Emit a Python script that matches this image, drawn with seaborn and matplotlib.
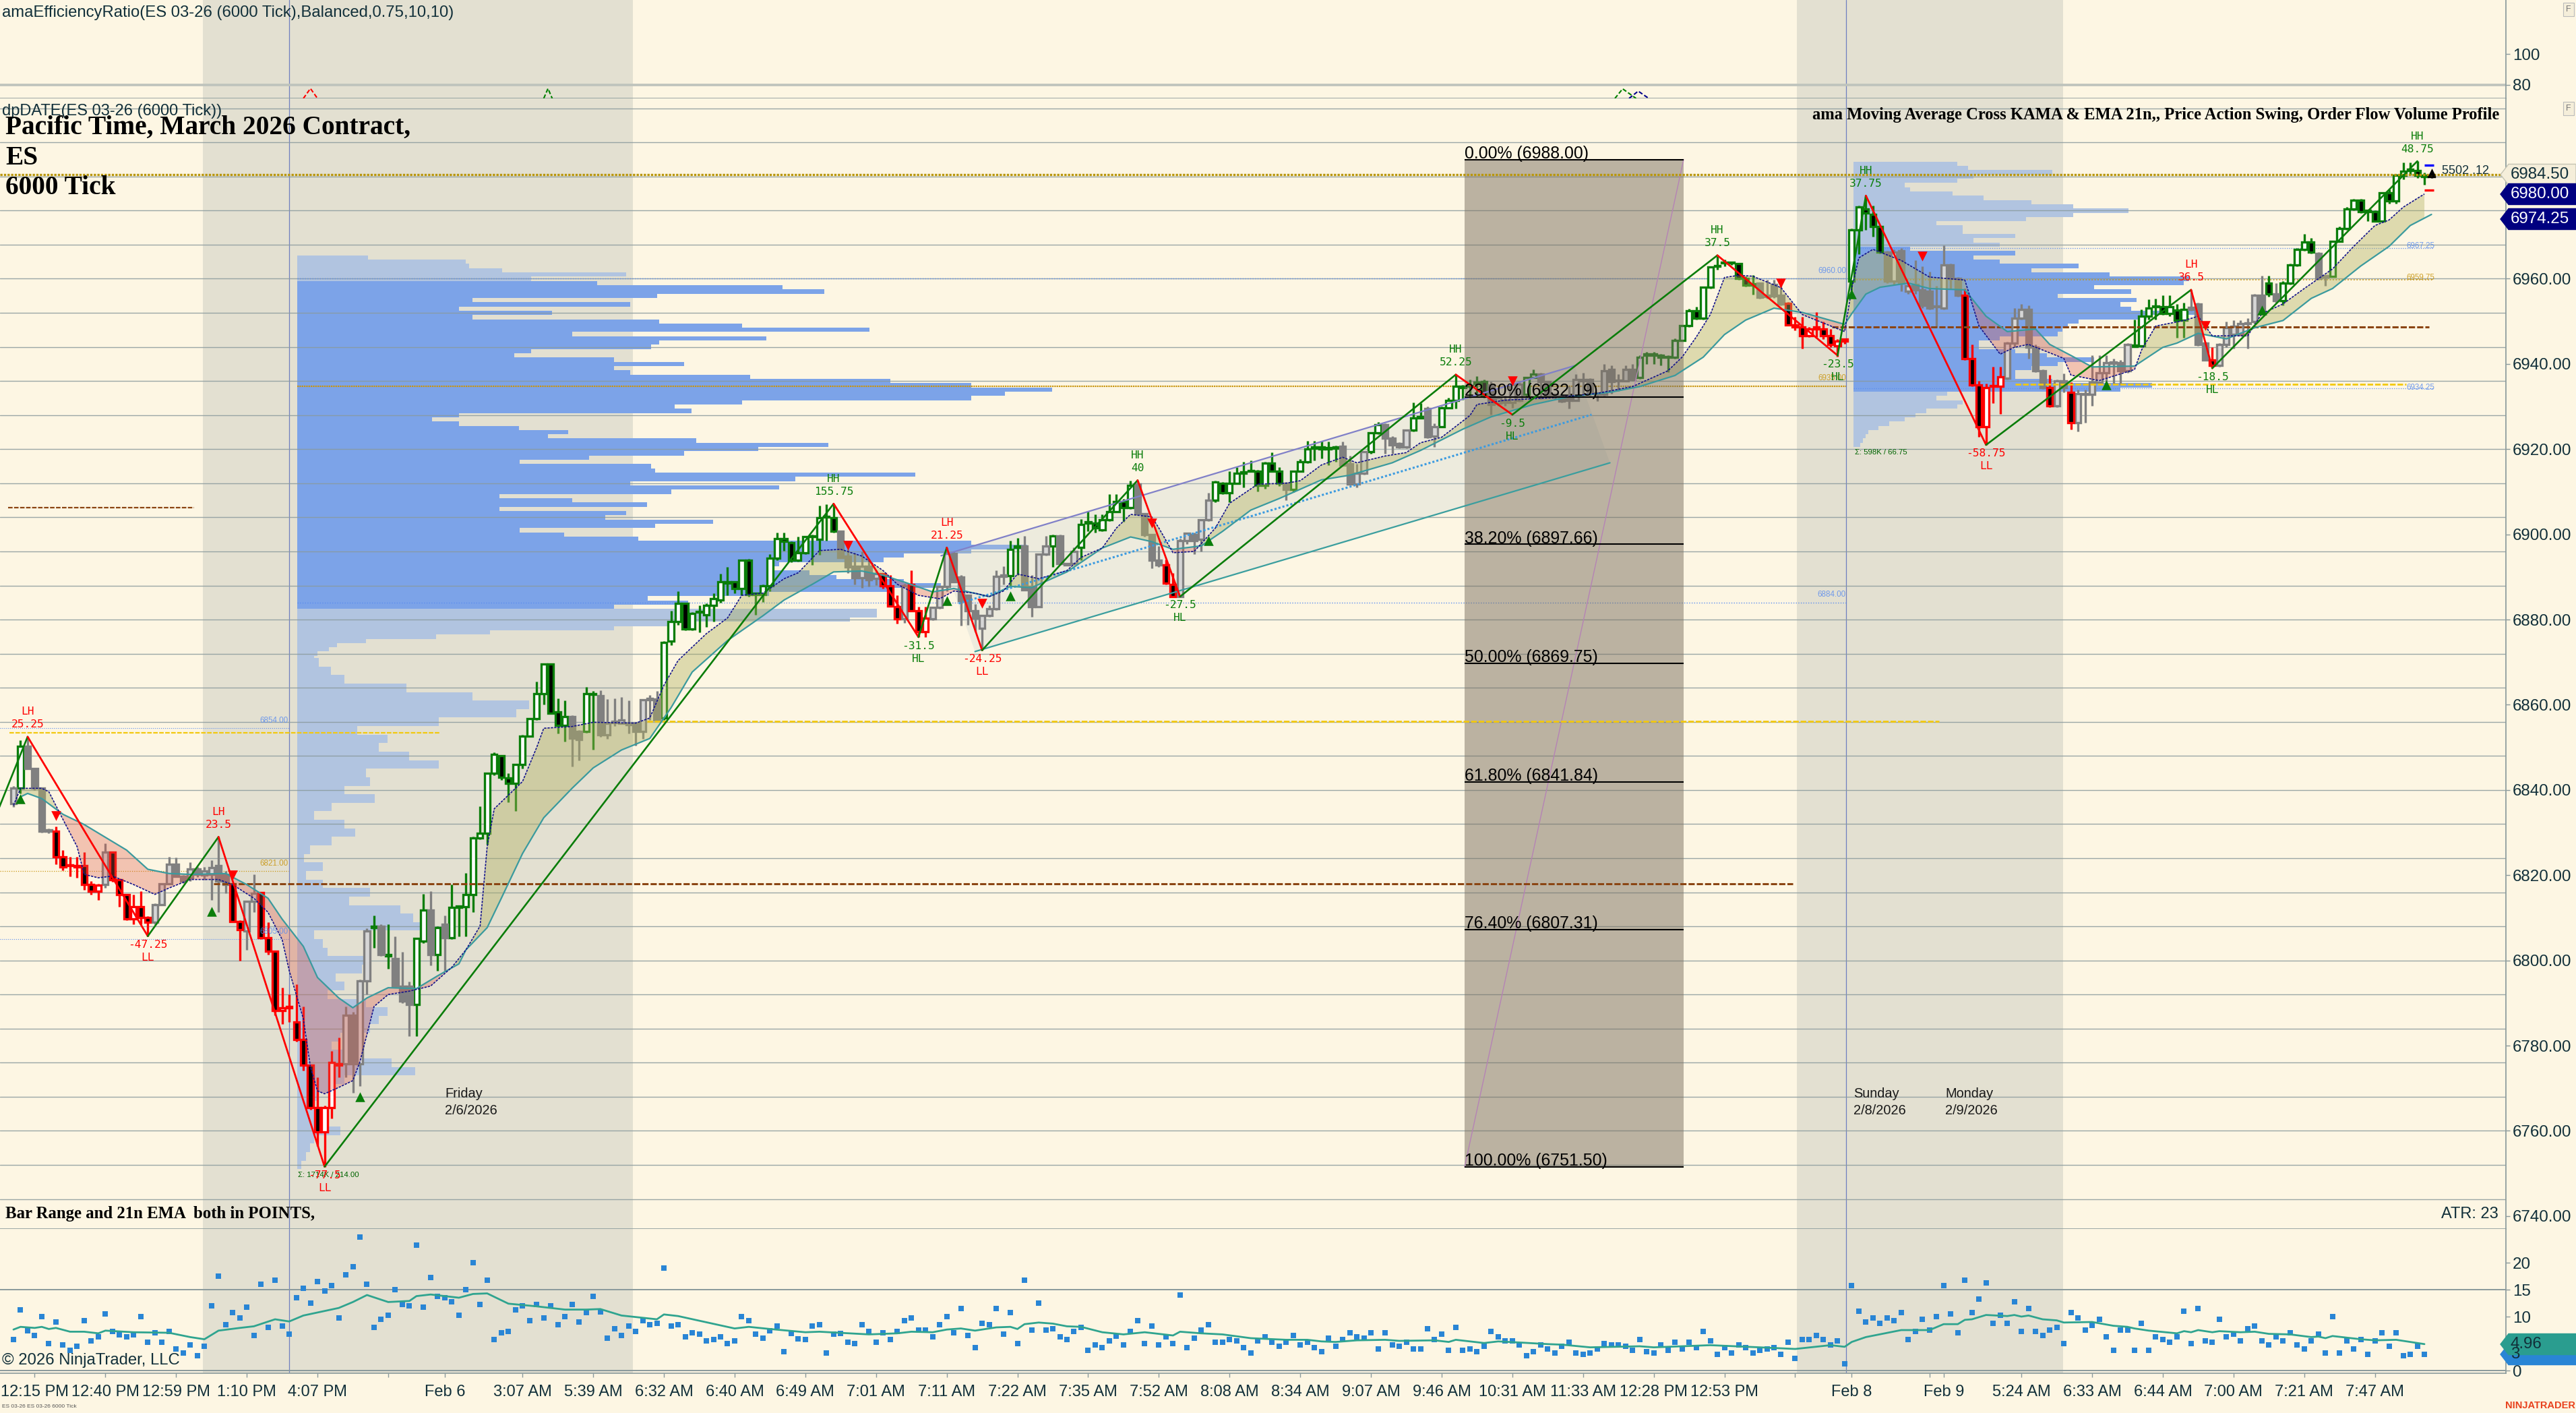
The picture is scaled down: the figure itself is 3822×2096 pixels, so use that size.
import numpy as np
import pandas as pd
import matplotlib
matplotlib.use("Agg")
import matplotlib.pyplot as plt
import seaborn as sns
from matplotlib.patches import Polygon

W, H = 3823, 2096
BG = "#FDF6E3"
sns.set_theme(style="white", rc={"figure.facecolor": BG, "axes.facecolor": BG, "savefig.facecolor": BG})
plt.rcParams["font.family"] = ["Liberation Sans", "DejaVu Sans"]

# (open, high, low, close, colour class)
seg_1 = [(6836.8,6841,6836,6840.4,'n'),(6840.4,6851.7,6839.2,6850.2,'g'),(6850.2,6852.5,6845,6845.1,'n'),(6845.1,6845.1,6840,6840.4,'n'),
(6840.4,6840.4,6830,6830.3,'n'),(6830.7,6831,6829.8,6830.3,'n'),(6830.3,6831.5,6822.6,6824.3,'r'),(6824.3,6825.9,6821.2,6822,'r'),
(6822.2,6824.3,6819.8,6822.2,'r'),(6822.2,6824.3,6819.4,6822,'r'),(6822.2,6825.5,6816.6,6817.8,'r'),(6817.8,6818.6,6815.5,6816.2,'r'),
(6816.2,6818,6814.2,6817.6,'r'),(6817.8,6827.5,6817,6825.5,'n'),(6825.5,6825.5,6818.5,6819,'r'),(6819,6819.2,6812.6,6815.4,'r'),
(6815.4,6815.6,6809.5,6809.7,'r'),(6809.7,6815.4,6808.5,6812.6,'r'),(6812.6,6816.2,6808.5,6810.1,'r'),(6810.1,6810.4,6805.7,6808.9,'r'),
(6808.9,6813.4,6808.5,6813.1,'n'),(6813.1,6818.2,6813,6818,'n'),(6818,6824.3,6818,6822.6,'n'),(6822.6,6824.1,6819.5,6819.8,'n'),
(6819.8,6820,6818.2,6818.6,'n'),(6819.4,6823,6818.6,6821.4,'n'),(6821.4,6822,6819.5,6820.2,'n'),(6820,6822,6819,6821,'n'),
(6820.2,6823.5,6814.2,6821.8,'n'),(6822.2,6829,6811.3,6818.6,'n'),(6820.2,6821,6815.8,6817.8,'n'),(6818,6818,6809,6809.1,'r'),
(6809.1,6809.5,6800,6807.2,'r'),(6806.9,6814,6802.5,6813.8,'n'),(6813.8,6820.2,6811.3,6815.8,'n'),(6815.9,6816,6805,6805.3,'r'),
(6805.3,6808.9,6801.3,6802.1,'r'),(6802.1,6802.3,6787.1,6788.3,'r'),(6788.3,6793.6,6785.1,6788.8,'r'),(6788.9,6792,6785.5,6788.9,'r'),
(6785.5,6794.4,6781,6781.5,'r'),(6781.5,6789.2,6774.2,6775.4,'r'),(6775.4,6775.5,6765,6765.5,'r'),(6765.5,6772.6,6756.5,6759.7,'r'),
(6759.7,6766,6751.6,6765.5,'r'),(6765.5,6778.7,6762.9,6776,'r'),(6775.7,6781.9,6772.6,6775.5,'r'),(6775.7,6789.2,6772.6,6787.1,'n'),
(6787.1,6788,6769,6775.7,'n'),(6775.8,6795.5,6770.6,6795.2,'n')]
seg_2 = [(6795.2,6807.5,6792,6806.9,'n'),(6807.7,6810.5,6802.9,6807.8,'g'),(6808.1,6808.5,6801,6801.3,'n'),(6801.3,6808.5,6798,6801.1,'g'),
(6800.5,6805.7,6794,6794,'n'),(6794,6802,6790,6790.5,'n'),(6794,6795,6782.3,6789.6,'n'),(6789.7,6805.3,6782.3,6805.1,'g'),
(6804.5,6815.6,6804,6811.8,'g'),(6811.8,6816.2,6798.8,6801.3,'n'),(6801.3,6808,6797.6,6807.7,'g'),(6808.5,6810.5,6797.6,6805.3,'n'),
(6805.3,6817.8,6805,6812.4,'g'),(6812.5,6812.5,6805.7,6812.5,'g'),(6812.6,6820.6,6805.7,6815.4,'g'),(6815.4,6829,6811.3,6828.7,'g'),
(6828.7,6836.2,6828.5,6829.9,'g'),(6829.9,6844,6827.1,6844,'g'),(6844,6848.8,6843.5,6848.3,'g'),(6848,6848.2,6842.4,6843,'g'),
(6842.8,6844,6837.2,6841.6,'g'),(6841.6,6846.2,6835,6846,'g'),(6846,6853,6845,6852.7,'g'),(6852.7,6856.9,6852.5,6856.7,'g'),
(6856.7,6865.4,6856.5,6862.6,'g'),(6862.6,6869.8,6860,6869.5,'g'),(6869.5,6869.8,6858,6858,'g'),(6858.3,6861.5,6853.3,6855.1,'g'),
(6855.1,6861,6851.3,6857.2,'g'),(6857.3,6857.5,6845.6,6852.1,'n'),(6853.7,6854,6846.9,6851.9,'n'),(6853.7,6864.2,6853.5,6862.6,'g'),
(6862.6,6863.2,6849.4,6862.4,'g'),(6862.2,6863.4,6852.5,6852.9,'n'),(6852.9,6861.4,6852,6855.7,'n'),(6856.1,6861.5,6855,6855.8,'n'),
(6855.6,6861.8,6855.7,6856.5,'n'),(6855.6,6861,6853.3,6855.4,'n'),(6855.7,6856,6850.5,6853.7,'n'),(6853.7,6861.4,6852,6861.2,'n'),
(6861.2,6862.3,6856.5,6861.4,'n'),(6861.4,6863.2,6856,6856.5,'n'),(6856.9,6875,6856.5,6874.7,'g')]
seg_3 = [(6874.9,6882,6874,6879.6,'g'),(6879.6,6886.7,6878.8,6883.8,'g'),(6883.8,6884,6877.5,6877.8,'g'),(6877.8,6881.7,6877.5,6881.5,'g'),
(6881.7,6883.3,6877,6881.7,'g'),(6881.2,6883.8,6878.3,6883.3,'g'),(6883.3,6886.2,6879.6,6884.9,'g'),(6884.6,6890.7,6884,6888.8,'g'),
(6888.8,6892.3,6885.7,6888.6,'g'),(6888.8,6889,6886.2,6887.3,'g'),(6887.3,6894,6885.7,6893.9,'g'),(6893.9,6894.2,6885.4,6885.9,'g'),
(6885.9,6886.4,6881.2,6886.2,'g'),(6885.9,6888.2,6884.1,6888,'g'),(6888,6895.4,6886.7,6894.4,'g'),(6894.4,6900.4,6894,6899,'g'),
(6899,6900.4,6896.2,6898.3,'g'),(6898.1,6898.3,6893.5,6893.9,'g'),(6893.9,6899.4,6893.6,6895.7,'g'),(6895.7,6899.6,6895.4,6899.4,'g'),
(6899.4,6899.9,6892.8,6899.4,'g'),(6898.9,6906.8,6895.2,6903.9,'g'),(6904,6907,6898.6,6904,'g'),(6903.9,6907,6900.5,6900.7,'g'),
(6900.7,6900.8,6894.4,6894.6,'n'),(6894.9,6896.5,6890.9,6892.3,'n'),(6892.5,6895.7,6888.3,6889.8,'n'),(6889.9,6896,6887.5,6892.5,'n'),
(6892.5,6894.1,6887.8,6889.4,'n'),(6889.6,6891.5,6888.1,6890.7,'n'),(6890.7,6891,6887.3,6888,'r'),(6888,6890.4,6883,6883.2,'r'),
(6883,6885.7,6879.1,6880.1,'r'),(6880.1,6888.4,6879.3,6888,'n'),(6888.3,6891.5,6882,6882.1,'r'),(6882.1,6883,6875.9,6877.2,'r'),
(6877.2,6883,6875.9,6880.4,'r'),(6880.1,6883,6879.9,6882.8,'n'),(6882.8,6888,6882.5,6887.8,'n'),(6887.8,6896.9,6886.7,6895.6,'n'),
(6895.6,6896,6888.8,6888.8,'n'),(6890,6890.4,6878.6,6884.4,'n'),(6885.7,6885.7,6878.8,6882,'n'),(6882,6883.6,6877.2,6880.4,'n'),
(6877.9,6881,6872.8,6880.9,'n'),(6880.9,6883.3,6880.6,6882.5,'n'),(6882.5,6891.5,6882.2,6890.2,'n'),(6890.3,6892.5,6888.3,6890.2,'n'),
(6890.3,6898.6,6888,6896.5,'g'),(6897,6899.1,6890.4,6897.2,'g')]
seg_4 = [(6897.3,6899.7,6887,6887,'n'),(6887.8,6890.4,6880.7,6883,'n'),(6883,6895.5,6882.8,6895.3,'n'),(6895.3,6899.7,6895.1,6897.2,'n'),
(6897.2,6899.9,6892.3,6899.7,'g'),(6899.7,6900,6892.8,6893.1,'n'),(6893.1,6893.3,6892.8,6892.9,'n'),(6893.1,6897,6892.8,6896,'n'),
(6897,6903.6,6893.9,6902.3,'g'),(6902.7,6905.5,6900.7,6902.7,'g'),(6902.7,6904.7,6900.4,6901.5,'g'),(6901,6904.7,6900.7,6903.5,'g'),
(6903.5,6909.4,6903.1,6905.3,'g'),(6905.3,6909.4,6905.2,6907.7,'g'),(6907.7,6908.4,6903,6906.3,'g'),(6906.3,6912.6,6906,6911.5,'g'),
(6911.8,6912.6,6904.5,6904.9,'n'),(6904.9,6905,6899.4,6899.9,'n'),(6899.9,6900,6892,6893.9,'n'),(6893.9,6897.3,6892.3,6892.8,'n'),
(6892.8,6894.1,6888.3,6888.6,'r'),(6888.3,6891,6885.4,6885.4,'r'),(6885.4,6899,6885.4,6898.6,'n'),(6898.6,6900.4,6897.8,6900.2,'n'),
(6899.9,6900.4,6895.4,6898.6,'n'),(6898.9,6903.6,6896,6903.4,'n'),(6903.4,6909.7,6903.1,6908,'n'),(6908,6912.6,6907.6,6912.3,'g'),
(6912,6912.3,6909.4,6909.7,'g'),(6909.7,6914.9,6907.6,6912,'g'),(6912,6915.7,6911.8,6914.3,'g'),(6914.4,6917,6911,6914.4,'g'),
(6914.8,6917.3,6914.6,6914.8,'g'),(6914.9,6915.2,6910,6911.5,'g'),(6911.5,6917,6910.7,6916.8,'g'),(6916.8,6919.2,6914.7,6914.9,'g'),
(6914.9,6915.7,6911.3,6912,'g'),(6912,6912.3,6908.1,6910.5,'n'),(6910.5,6915,6909.9,6914.8,'g'),(6914.8,6917.6,6914.6,6917.1,'g'),
(6917.1,6922,6916.8,6920,'g')]
seg_5 = [(6920.2,6922,6917.3,6920.5,'g'),(6920.5,6922,6917.8,6920,'g'),(6920,6921.8,6916.3,6920.3,'g'),(6920.2,6920.8,6917,6920.5,'g'),
(6920.7,6921.8,6916.3,6916.3,'n'),(6916.5,6918.4,6911.8,6911.8,'n'),(6911.8,6916.5,6911,6914.4,'n'),(6914.4,6919.6,6914,6919.4,'n'),
(6919.4,6924,6919,6923.9,'g'),(6923.9,6926.3,6923.6,6925.7,'g'),(6925.7,6926,6918.9,6922.6,'n'),(6922.6,6923,6918.9,6921,'n'),
(6921.3,6921.6,6920.2,6920.5,'n'),(6920.5,6924.6,6920.2,6924.4,'n'),(6924.4,6931,6924.1,6927.4,'g'),(6927.4,6930.8,6927.2,6927.4,'g'),
(6929.6,6930,6922.6,6922.9,'n'),(6923.1,6926,6920.5,6925.2,'n'),(6925.2,6930,6925.2,6929.7,'g'),(6929.7,6932,6929.5,6931.5,'g'),
(6931.5,6937.6,6929.5,6934.7,'g'),(6934.7,6935,6931.6,6934.5,'g'),(6934.7,6936.3,6932,6934.8,'g'),(6935.4,6937.1,6932.3,6935.4,'g'),
(6935.8,6936.3,6932.1,6932.6,'g'),(6935,6935.8,6928.1,6930.5,'n'),(6930.8,6932.6,6930.2,6932.1,'n'),(6931.5,6932.6,6930.2,6931,'n'),
(6931,6935.8,6929.7,6935.3,'n'),(6931.5,6935.8,6931.2,6935.3,'n'),(6932.9,6937,6932.1,6936.8,'g'),(6936.8,6938.7,6936.6,6937.6,'g'),
(6937.6,6937.9,6931.8,6935.8,'n'),(6935.8,6936,6932.3,6932.6,'n'),(6932.6,6932.9,6931.8,6932.6,'n'),(6932.6,6933.1,6931,6931.3,'n'),
(6932.1,6934.7,6929.5,6931.5,'n'),(6931.5,6937.6,6931.3,6936.3,'n'),(6936.3,6937.9,6932.6,6936.1,'n'),(6936.3,6936.6,6932.6,6933.1,'n'),
(6933.1,6933.4,6931.3,6932.9,'n'),(6932.9,6940,6932.6,6938.4,'n'),(6938.7,6939.7,6933.1,6935.8,'n'),(6936,6937.6,6933.7,6936,'n'),
(6936,6939.7,6935.8,6938.7,'n'),(6938.7,6940,6936,6936.3,'n')]
seg_6 = [(6936.8,6942,6936.5,6941.6,'g'),(6942.1,6942.9,6940,6942.1,'g'),(6942.1,6942.9,6940,6942.2,'g'),(6942.1,6942.4,6939.7,6941.6,'g'),
(6941.6,6942.1,6938.1,6941.5,'g'),(6941.6,6946,6941.3,6945.5,'g'),(6945.5,6949.2,6945.3,6949,'g'),(6949,6952.9,6948.7,6952.5,'g'),
(6952.5,6953.4,6950.5,6950.8,'g'),(6950.8,6958.2,6950.5,6958,'g'),(6958,6962.9,6957.7,6962.7,'g'),(6962.9,6965.3,6962.1,6963,'g'),
(6963.7,6964.5,6963,6963.7,'g'),(6963.7,6964,6963.2,6963.8,'g'),(6963.5,6963.7,6959.8,6960,'g'),(6960,6960.6,6958.2,6958.5,'g'),
(6958.5,6960.8,6956.3,6958.6,'g'),(6959,6959.2,6955.3,6955.6,'n'),(6955.8,6959.8,6955.3,6955.8,'n'),(6958.7,6959.8,6955.5,6955.9,'n'),
(6956.1,6959.8,6953.7,6954,'n'),(6954.2,6954.6,6949.1,6949.2,'r'),(6949.2,6951,6947.9,6948.7,'r'),(6948.7,6951.1,6943.7,6946.6,'r'),
(6946.6,6948.7,6946.3,6948.2,'r'),(6948.7,6952.1,6946.3,6948.2,'r'),(6948.2,6950,6945.8,6946.6,'r'),(6946.6,6948.2,6944,6944.5,'r'),
(6944.2,6945.8,6941.8,6945.3,'r'),(6945.3,6946,6944.7,6945.9,'r'),(6959.4,6971.8,6957.1,6971.5,'g'),(6971.5,6977.1,6965.8,6976.8,'g'),
(6976.4,6979.5,6971.5,6975.5,'g'),(6975.1,6977.1,6969.9,6972.2,'g'),(6972.2,6972.5,6965.9,6966.3,'g'),(6966.3,6966.5,6959,6959.4,'n'),
(6959.4,6966.9,6958.7,6966.3,'n'),(6966.6,6967.2,6957,6959,'n'),(6957,6959,6956.4,6958.4,'n'),(6958.7,6964.3,6956.4,6957.4,'n'),
(6957.4,6963,6953.1,6953.8,'n'),(6957,6961.7,6952.8,6953.1,'n'),(6953.4,6958.4,6948.5,6953.4,'n'),(6953.1,6967.9,6952.8,6963.3,'n'),
(6963.3,6963.6,6957.7,6960,'n'),(6960,6960.4,6955.8,6956.1,'n')]
seg_7 = [(6956.1,6957.7,6941,6941.3,'r'),(6941.3,6944.6,6934.8,6935.1,'r'),(6935.1,6936,6922.9,6925.2,'r'),(6925.2,6935.4,6921,6934.4,'r'),
(6934.7,6939.3,6930.8,6934.7,'r'),(6934.7,6939.3,6928.2,6936.9,'r'),(6936.7,6945.2,6936.4,6944.9,'n'),(6944.9,6953.1,6943.9,6950.8,'n'),
(6950.8,6954.1,6950.5,6952.8,'n'),(6952.8,6953.8,6941.3,6943.9,'n'),(6943.9,6944.6,6938.1,6938.4,'n'),(6938.4,6938.7,6934.1,6934.4,'n'),
(6934.4,6937.4,6929.9,6930.2,'r'),(6930.2,6936.4,6929.8,6936.1,'n'),(6936.1,6937.7,6933.4,6934.4,'n'),(6933.4,6935.7,6924.6,6926.2,'r'),
(6926.2,6934,6924.2,6933.1,'n'),(6933.1,6934,6926.2,6932.8,'n'),(6932.8,6942,6930.1,6935.7,'n'),(6935.7,6942,6935.4,6938,'n'),
(6938,6942,6935.4,6940.3,'n'),(6940.3,6941.3,6935.4,6940.2,'n'),(6940.3,6941,6935.1,6938.4,'n'),(6938.4,6944.9,6938,6944.6,'n'),
(6944.1,6950.5,6943.9,6944.1,'g'),(6944.3,6952.8,6943.9,6951.2,'g'),(6951.2,6955.1,6950.5,6953.1,'g'),(6953.4,6955.4,6950.5,6953.4,'g'),
(6953.4,6956.1,6951.5,6951.8,'g'),(6951.8,6956.1,6951.2,6953.4,'g'),(6952.6,6954.1,6946.2,6950.2,'g'),(6950.2,6954.4,6946.2,6952.8,'g'),
(6952.8,6957.4,6952.5,6953.2,'n'),(6954.1,6954.4,6944.3,6944.6,'n'),(6944.9,6945.2,6941,6941,'n'),(6941,6943.9,6939.3,6939.7,'r'),
(6939.7,6944.9,6939.3,6944.6,'n'),(6944.6,6949.9,6943.9,6948.5,'n'),(6946.9,6950.2,6943.6,6948.9,'n'),(6946.9,6950.2,6946.6,6949.5,'n'),
(6949.5,6950.8,6943.6,6949.4,'n'),(6949.9,6956.4,6949.5,6956.1,'n'),(6956.1,6960.7,6951.8,6952.5,'n')]
seg_8 = [(6959,6960.7,6955.8,6956.4,'g'),(6956.4,6959,6954.4,6954.8,'n'),(6954.8,6959.4,6953.8,6959,'g'),(6959,6963.6,6958.7,6963.3,'g'),
(6963.3,6967.2,6963,6966.9,'g'),(6966.9,6970.5,6966.6,6968.6,'g'),(6968.6,6969.5,6965.9,6966.3,'g'),(6965.9,6966.3,6959.7,6960,'n'),
(6960.4,6960.7,6958.4,6960.4,'n'),(6960.5,6968.9,6960.4,6968.8,'g'),(6968.8,6972.2,6968.6,6971.8,'g'),(6971.8,6976.8,6971.5,6976.4,'g'),
(6976.4,6978.7,6976.1,6978.4,'g'),(6978.4,6978.7,6975.5,6975.8,'g'),(6975.8,6976.1,6973.5,6975.9,'g'),(6975.8,6976.1,6973.4,6973.6,'g'),
(6973.6,6980.4,6973.4,6980.2,'g'),(6980.2,6981,6977.7,6978.2,'g'),(6978.2,6984.6,6977.7,6984.3,'g'),(6984.3,6987.3,6983.3,6985.3,'g'),
(6985.4,6987.3,6984.3,6985.5,'g'),(6985.4,6987.6,6983.7,6984.3,'g'),(6984.3,6984.9,6982,6984,'g'),(6983.9,6984.2,6983.7,6984,'k')]

# Bar range (points) per bar
range_a = [5.7,11.2,7.4,6.5,10,5,9,4.7,3.7,4.5,9.2,5.5,6.2,10.5,7.2,6.6,6.2,6.6,10,5.2,7,5.2,7.2,4,3.2,4.7,2.7,4.5,12,17.5,8.5,10.7,9.7,11.7,6.5,16,8,16.8,8.2,6.7,13.5,15.3,12.5,16.5,14.8,15.8,9.7,17.8,19.3,24.8,16,8,9.5,10.2,15,12.2,12,23.3,11.7,17.3,13.8,13.5,12.7,10.2,15,20,12.2,16.8,5.7,7,7.2,11.2,12,9.2,12.2,9.7,12,8.5,10,12.2,9,10.7,13.8,10.9,6,7.7,6.5,8.2,7.2,9.2,8.5,8.7,19,8.2,8.5,6.2,7,6.7,5.5,5.7,6.2,5,5.5,10,9.2,6.7,6,7.4,8.2,3.5,6.9,5.9,5.7,8.2,8.5,3.2,6.7,6.9,5.2,5,8.5,7.2]
range_b = [5.2,7,5.7,7.2,9.2,9.7,7.5,7.5,6.2,8.5,10,7,11.5,6.5,4.2,8.7,8.5,11.5,6.7,10.7,5,16.8,7.5,12.5,7.5,7.7,6.2,5.7,7.2,8,3.7,4.7,4.2,5.5,6.4,4.7,7.2,9.2,5,8.2,4.7,6.2,5,14,4.2,6,7.5,8.5,5.2,5.2,5.7,5.5,4.2,3.2,5.5,6.2,5.2,4.5,5.2,6.5,4.7,5.2,4.2,3.5,6,4.5,5.7,7,6.2,6,7,4,7,4.7,4.5]
range_c = [5.2,4,4,7.7,5.7,6.7,3.7,8,3.7,4,3.5,4.5,7.2,6.2,5.5,5.5,4.7,2.7,3.5,4.7,4,3.2,4.5,5.2,3.2,3,3.2,4,5,4.7,4.7,4.5,3.7,5.7,3.5,3.2,4.7,3.7,5.2,4,5.2,4.2,7.2,5.5,3,4.2,3.2,4.7,4.2,3.2,3.7,4,4.2,3,5.2,2.2,5.7,5.7,6.5,5.7,4.7,5.5,1.2,15.8,11,9,9.7,8.7,9.7,9.2,10.7,5.7,7.2,9.5,7.5,10,15.8,10.5,7]
range_d = [16.8,10.7,13.3,16.3,8.7,10.2,8.7,12.7,7.2,11.5,7.2,6.5,7.5,8,5,10.7,9.7,7.5,8.4,9.5,6.2,3.7,7.5,7.5,3.7,8.7,3.7,6.2,5.7,5.2,6.2,11,5,11.5,5.5,5.2,9.5,6.2,6.7,5.5,7.7,8.2,5.5,4.7,6.2,5.5,7,4.7,4,5.5,6.7,3.2,10,3.2,5.5,4,5.7,3,5.5,7,4.5,7,2.7,3,4.5,3]

# 21-bar EMA of bar range, at the bars where the line was read
range_ema_x = [0,1,3,4,5,6,8,10,12,13,17,22,25,27,29,32,34,37,39,41,46,48,50,53,56,57,59,63,65,67,70,74,78,81,83,86,91,92,94,102,104,107,112,114,121,125,127,130,132,134,136,139,141,142,143,145,147,149,151,154,157,160,164,165,168,171,175,180,183,185,187,190,194,196,201,203,204,208,210,213,217,219,223,230,232,240,247,252,257,259,260,262,267,271,273,275,276,277,279,282,283,284,285,287,289,290,294,297,299,300,302,306,307,308,309,311,312,315,317,319,322,325,326,327,328,332,334,337,341]
range_ema_y = [7.6,8.1,7.9,8.1,7.7,7.9,7.2,7.2,6.9,7.4,7.1,7.0,6.2,5.8,7.4,7.9,8.2,9.5,9.1,10.2,11.6,12.7,14,12.7,12.9,13.8,14.1,13.5,14.2,14.3,12.4,11.9,11.3,11.3,11.4,10.2,9.5,10.4,10.1,7.8,8.1,7.7,7.1,7.2,6.7,6.9,7.2,7.1,7.6,7.8,7.4,8,8.1,7.7,8.6,8.9,8.7,8.2,8.1,7.1,6.7,7.1,6.5,7.2,6.9,6.7,6,5.7,5.7,5.4,5.3,5.6,5.7,5.5,5.6,5.3,5.7,5.1,5.4,5.2,4.9,4.8,4.3,4.5,4.3,4.7,4.3,4,4.7,4.4,5.3,6.2,7.5,7.5,8.6,8.6,9.4,9.5,10.3,10.1,10.3,10,10.2,9.5,9.3,8.9,9,8.3,8.1,7.8,7.4,6.9,7.3,7.1,7.5,7.1,7.3,7.1,7.2,6.8,6.7,6.2,6.3,6,6.4,5.8,5.6,5.7,4.9]

# KAMA and EMA 21 of price
kama_x = [0,1,4,5,7,9,10,12,14,17,20,22,25,29,31,34,36,38,39,41,42,43,44,46,48,49,51,53,56,59,62,64,66,67,68,70,72,74,75,79,82,88,90,92,94,98,101,103,106,109,111,114,117,120,123,125,128,131,133,136,138,140,142,145,149,151,154,156,158,161,162,164,167,170,172,176,180,182,185,188,190,194,197,199,202,206,207,211,218,224,229,234,236,238,240,242,244,246,250,253,259,260,261,263,267,271,276,278,281,283,285,290,291,295,300,301,303,307,309,311,316,318,321,324,328,331,334,336,338,341]
kama_y = [6836.4,6840.4,6840.4,6839.6,6833.1,6826.7,6820.2,6819.4,6819.8,6817.8,6815.5,6817,6819,6819,6817.8,6814.6,6811.3,6804.9,6797.6,6786.3,6775,6769.4,6768.7,6770.2,6771.8,6776.2,6789.2,6792,6792.8,6794,6798.4,6802.5,6808.1,6826.7,6835.6,6838.8,6842,6850,6854.5,6854.9,6855.9,6855.7,6856.9,6864.6,6870.4,6876.7,6880.4,6885.7,6886.2,6889.6,6891,6896.2,6896.5,6894.9,6891.5,6888.3,6885.7,6884.9,6886.7,6886.2,6885.4,6886.7,6890.7,6889.6,6891.5,6894.6,6896.8,6901.5,6904.7,6904.1,6901.5,6895.7,6896,6901.5,6907.3,6911.8,6912,6912.6,6916.3,6918.1,6916.8,6918.4,6919.2,6921.5,6922.8,6927.9,6930.5,6931.5,6932.1,6933.1,6934.7,6938.4,6941.6,6946.3,6951.6,6960.3,6960.8,6960.6,6957.9,6951.6,6947.6,6957.7,6964.9,6966.9,6964.3,6960.4,6959.7,6948.9,6942.3,6943.9,6944.6,6941.3,6937.4,6936.1,6938.7,6943.3,6948.9,6950.2,6951.2,6946.6,6946.6,6951.8,6954.1,6957.7,6962.3,6967.6,6972.5,6973.8,6976.8,6979.9]
ema_x = [1,2,4,7,10,13,16,19,22,25,30,33,36,38,41,43,46,48,50,53,57,60,63,64,67,69,72,75,79,82,86,90,93,96,101,106,109,113,116,120,123,126,130,133,138,141,144,149,154,158,161,164,168,171,175,179,185,189,195,199,205,209,215,220,226,230,235,239,242,245,249,253,259,260,262,264,268,271,276,279,282,286,288,291,294,300,304,306,309,313,317,321,325,328,332,336,339,342]
ema_y = [6838.4,6839.2,6838,6834.3,6831.9,6828.9,6825.9,6821.4,6820.4,6820.2,6820.4,6817.8,6814.6,6809.7,6803.3,6796,6791.2,6788.9,6791.2,6793.6,6793.4,6796.4,6799.2,6802.5,6807.7,6814.6,6825.1,6833.5,6840.4,6845.2,6849.4,6852.1,6859.3,6867.7,6875.1,6880.9,6884.6,6888.3,6891.2,6891.4,6890.4,6888.8,6886.5,6887.3,6885.4,6887.8,6887.5,6891.2,6896.8,6899.4,6898.3,6896.5,6897.3,6900.7,6905.7,6908.4,6912.8,6913.9,6916.8,6919.7,6924.7,6927.6,6930.5,6932.3,6933.4,6934.7,6937.3,6941.6,6946.9,6950.3,6953.1,6952.1,6949.3,6951.8,6956.4,6958,6959,6957.7,6957.4,6951.2,6947.6,6948.2,6944.6,6942,6939.3,6939.5,6943.9,6944.9,6947.2,6945.9,6948.5,6950.2,6955.4,6957.7,6963,6967.6,6972.5,6975.1]

# Swing points: bar, price
swing_x = [-2,2,19,29,44,116,128,132,137,159,165,204,212,241,258,262,279,308,311,340]
swing_p = [6836,6852.5,6805.7,6829,6751.6,6907.2,6875.9,6896.9,6872.8,6912.7,6885.4,6937.5,6928.1,6965.5,6942,6979.5,6921,6957.4,6939,6987.6]
swing_value = ["", "25.25","-47.25","23.5","-77.5","155.75","-31.5","21.25","-24.25","40","-27.5","52.25","-9.5","37.5","-23.5","37.75","-58.75","36.5","-18.5","48.75"]
swing_tag = ["", "LH","LL","LH","LL","HH","HL","LH","LL","HH","HL","HH","HL","HH","HL","HH","LL","LH","HL","HH"]

up_tri_x = [1,28,49,132,141,169,260,296,318]
up_tri_p = [6838,6811.5,6768,6884.5,6885.5,6898.6,6956.4,6935,6952.7]
dn_tri_x = [6,31,118,137,161,212,250,270,310]
dn_tri_p = [6833.9,6820,6897.4,6883.8,6902.7,6936,6959,6965.3,6949]

fib_pct = [0.0,23.6,38.2,50.0,61.8,76.4,100.0]
fib_price = [6988.0,6932.19,6897.66,6869.75,6841.84,6807.31,6751.5]

# Volume profile, Friday session: levels and widths
vp1_top_lv = [6965,6964,6963,6962,6961,6960]
vp1_top_w = [105,250,255,304,488,347]
vp1_dark_lv = list(range(6959,6882,-1))
vp1_dark_w = [445,720,782,534,260,494,240,378,260,537,660,849,408,696,537,525,347,322,470,574,470,494,672,880,1000,1120,1050,1000,660,560,585,240,200,240,329,402,372,592,788,684,574,433,330,525,531,917,739,494,715,555,300,408,519,300,488,457,617,531,330,396,506,1000,1083,1000,900,870,715,700,760,800,900,955,880,700,520,580,470]
vp1_mid_lv = [6882,6881,6880,6879,6878,6877,6876,6875,6874,6873,6872,6871]
vp1_mid_w = [860,860,820,560,470,286,206,102,59,47,30,25]
vp1_low_lv = list(range(6870,6750,-2))
vp1_low_w = [32,50,70,162,260,344,325,210,89,134,121,166,210,102,108,70,115,51,25,70,86,51,19,10,38,13,38,108,77,153,172,198,25,38,45,102,96,57,70,45,102,134,121,108,64,51,70,140,175,70,51,32,19,25,45,64,25,19,13,6]
# Volume profile, Sunday/Monday session
vp2_top_lv = list(range(6987,6967,-1))
vp2_top_w = [154,170,295,178,154,76,84,147,193,264,326,408,326,256,123,162,162,240,178,217]
vp2_dark_lv = list(range(6967,6933,-1))
vp2_dark_w = [84,240,178,217,334,264,380,498,490,357,412,303,420,396,412,513,435,334,318,310,303,217,186,186,240,287,357,303,264,240,240,295,443,396]
vp2_low_lv = list(range(6933,6920,-1))
vp2_low_w = [139,123,162,154,108,92,76,53,37,22,18,14,10]

time_tick_bars = [3,13,23,33,43,53,61,72,82,92,102,112,122,132,142,152,162,172,182,192,202,212,222,232,242,252,260,271,273,284,294,304,314,324,334]
time_tick_labels = ["12:15 PM","12:40 PM","12:59 PM","1:10 PM","4:07 PM","","Feb 6","3:07 AM","5:39 AM","6:32 AM","6:40 AM","6:49 AM","7:01 AM","7:11 AM","7:22 AM","7:35 AM","7:52 AM","8:08 AM","8:34 AM","9:07 AM","9:46 AM","10:31 AM","11:33 AM","12:28 PM","12:53 PM","","Feb 8","","Feb 9","5:24 AM","6:33 AM","6:44 AM","7:00 AM","7:21 AM","7:47 AM"]

# Efficiency ratio spikes in the top panel
er_red_x, er_red_y = [41,42,43], [71.3,77.7,71.3]
er_green_x, er_green_y = [75,75.6,76.2], [71.3,77.7,71.3]
er_green2_x, er_green2_y = [226.5,227.6,229.5], [71.3,77.5,71.3]
er_blue_x, er_blue_y = [228.5,229.8,231.3], [71.3,76,71.3]

PX_PER_BAR = 10.49
X0_PX = 20.0
def i_of(px):
    return (px - X0_PX) / PX_PER_BAR

candles = seg_1 + seg_2 + seg_3 + seg_4 + seg_5 + seg_6 + seg_7 + seg_8
df = pd.DataFrame(candles, columns=["o", "h", "l", "c", "k"])
df["i"] = np.arange(len(df))
bar_range = range_a + range_b + range_c + range_d

AXIS_RIGHT = 3718
def add_axes(top, bottom):
    return fig.add_axes([0, 1 - bottom / H, AXIS_RIGHT / W, (bottom - top) / H])

fig = plt.figure(figsize=(W / 100, H / 100), dpi=100)
ax_top = add_axes(0, 146)
ax = add_axes(146, 1823)
ax_bot = add_axes(1823, 2037)
XLIM = (i_of(0), i_of(AXIS_RIGHT))
TXT = "#12303A"
GRID = "#8A9A9C"
for a in (ax_top, ax, ax_bot):
    a.set_xlim(*XLIM)
    a.set_facecolor(BG)
    for s in ("top", "left"):
        a.spines[s].set_visible(False)
    a.spines["right"].set_color(GRID)
    a.spines["bottom"].set_color(GRID)
    a.spines["bottom"].set_linewidth(1.2)
    a.yaxis.tick_right()
    a.tick_params(axis="y", direction="out", length=4, width=1, color=GRID, labelsize=17.4, labelcolor=TXT, pad=3, right=True, left=False, labelright=True, labelleft=False)
    a.axvspan(i_of(301), i_of(939), color="#E3E0D1", zorder=0, lw=0)
    a.axvspan(i_of(2666), i_of(3061), color="#E3E0D1", zorder=0, lw=0)
    a.axvline(i_of(428.6), color="#6F80C0", lw=0.9, zorder=1)
    a.axvline(i_of(2739), color="#6F80C0", lw=0.9, zorder=1)
    a.set_xlabel(""); a.set_ylabel("")

# ---------- top panel
ax_top.set_ylim(71.3, 134.8)
ax_top.set_yticks([80, 100])
ax_top.set_xticks([])
ax_top.axhline(80, color="#BEC3BC", lw=2.6, zorder=1)
for xs, ys, col in ((er_red_x, er_red_y, "#FF0000"), (er_green_x, er_green_y, "#008000"), (er_green2_x, er_green2_y, "#008000"), (er_blue_x, er_blue_y, "#00008B")):
    ax_top.plot(xs, ys, color=col, lw=1.5, ls=(0, (3, 1.5)), zorder=3)

# ---------- main panel
ax.set_ylim(6960 + (413.5 - 1823) / 6.32, 6960 + (413.5 - 146) / 6.32)
ax.set_yticks(np.arange(6740, 6980, 20))
ax.set_yticklabels([f"{v:.2f}" for v in np.arange(6740, 6980, 20)])
ax.set_xticks([])
for lv in np.arange(6744, 7008, 8):
    ax.axhline(lv, color=GRID, lw=1.0, zorder=2.2, alpha=0.85)

def profile(levels, widths, start_px, color, height):
    ax.barh(levels, np.array(widths) / PX_PER_BAR, left=i_of(start_px), height=height, color=color, lw=0, zorder=1.5)

DARK, LIGHT = "#7CA3E8", "#B1C4E0"
profile(vp1_top_lv, vp1_top_w, 441, LIGHT, 1.0)
profile(vp1_dark_lv, vp1_dark_w, 441, DARK, 1.0)
profile(vp1_mid_lv, vp1_mid_w, 441, LIGHT, 1.0)
profile(vp1_low_lv, vp1_low_w, 441, LIGHT, 2.0)
profile(vp2_top_lv, vp2_top_w, 2750, LIGHT, 1.0)
profile(vp2_dark_lv, vp2_dark_w, 2750, DARK, 1.0)
profile(vp2_low_lv, vp2_low_w, 2750, LIGHT, 1.0)

# channel
ch_up_x, ch_up_p = [131.2, 220.8], [6895, 6939.6]
ch_lo_x, ch_lo_p = [136, 225.8], [6872.5, 6916.8]
ch_mid_x, ch_mid_p = [133.7, 223.2], [6883.8, 6928.1]
ax.fill(ch_up_x + ch_lo_x[::-1], ch_up_p + ch_lo_p[::-1], color="#C9D3D2", alpha=0.3, lw=0, zorder=2.5)
ax.plot(ch_up_x, ch_up_p, color="#8080C8", lw=1.6, zorder=5)
ax.plot(ch_lo_x, ch_lo_p, color="#3A9E9E", lw=1.6, zorder=5)
ax.plot(ch_mid_x, ch_mid_p, color="#3C9BE0", lw=2.2, ls=(0, (1, 1)), zorder=5)

# levels
ax.hlines(6818, i_of(317), i_of(2660), color="#8B4513", lw=2.2, ls=(0, (3, 1)), zorder=5)
ax.hlines(6948.7, i_of(2718), i_of(3604), color="#8B4513", lw=2.2, ls=(0, (3, 1)), zorder=5)
ax.hlines(6906.3, i_of(12), i_of(288), color="#8B4513", lw=1.6, ls=(0, (3, 1)), zorder=5)
ax.axhline(6984.5, color="#B8960C", lw=2.4, ls=(0, (1, 0.6)), zorder=5)
ax.hlines(6853.5, i_of(14), i_of(654), color="#F2C80F", lw=1.6, ls=(0, (3, 1)), zorder=5)
ax.hlines(6856.2, i_of(960), i_of(2877), color="#F2C80F", lw=2.0, ls=(0, (3, 1)), zorder=5)
ax.hlines(6935.2, i_of(2990), i_of(3570), color="#F2C80F", lw=2.0, ls=(0, (3, 1)), zorder=5)
ax.hlines([6854.5, 6805], i_of(0), i_of(428), color="#5B8DEF", lw=0.8, ls=":", zorder=3)
ax.hlines(6821, i_of(0), i_of(428), color="#C8950F", lw=0.9, ls=":", zorder=3)
ax.hlines([6960, 6884], i_of(441), i_of(2739), color="#5B8DEF", lw=1.0, ls=":", zorder=3)
ax.hlines(6934.7, i_of(441), i_of(2739), color="#C8950F", lw=1.6, ls=(0, (1, 0.5)), zorder=3)
ax.hlines([6967.25, 6934.25], i_of(2750), i_of(3610), color="#5B8DEF", lw=0.9, ls=":", zorder=3)
ax.hlines(6959.75, i_of(2750), i_of(3610), color="#C8950F", lw=1.2, ls=":", zorder=3)

# candles
EDGE = {"g": "#0A7D0A", "r": "#FF0000", "n": "#808080", "k": "#000000"}
for k, sub in df.groupby("k"):
    up = sub["c"] >= sub["o"]
    if k == "n":
        fills = np.where(up, "#D6D6D6", "#808080")
    else:
        fills = np.where(up, "#FFFFFF", "#000000")
    ax.vlines(sub["i"], sub["l"], sub["h"], color=EDGE[k], lw=2.4, zorder=4)
    ax.bar(sub["i"], np.maximum((sub["c"] - sub["o"]).abs(), 0.25), bottom=np.minimum(sub["c"], sub["o"]), width=0.78,
           color=fills, edgecolor=EDGE[k], linewidth=2.4, zorder=4.1)

# KAMA / EMA cloud
fx = np.arange(1, 342)
ky = np.interp(fx, kama_x, kama_y)
ey = np.interp(fx, ema_x, ema_y)
ax.fill_between(fx, ky, ey, where=ky >= ey, interpolate=True, color="#B0B060", alpha=0.40, lw=0, zorder=4.5)
ax.fill_between(fx, ky, ey, where=ky < ey, interpolate=True, color="#DD5A4A", alpha=0.32, lw=0, zorder=4.5)
sns.lineplot(x=ema_x, y=ema_y, ax=ax, color="#3A9A9E", lw=1.6, estimator=None, zorder=5)
sns.lineplot(x=kama_x, y=kama_y, ax=ax, color="#14148C", lw=1.2, estimator=None, ls=(0, (2, 1)), zorder=5)

# Fibonacci retracement
fib_l, fib_r = i_of(2173), i_of(2498)
ax.fill_between([fib_l, fib_r], fib_price[-1], fib_price[0], color="#7A7060", alpha=0.5, lw=0, zorder=4.6)
ax.plot([fib_l, fib_r], [fib_price[-1], fib_price[0]], color="#B583B5", lw=1.0, zorder=4.7)
for pct, price in zip(fib_pct, fib_price):
    ax.hlines(price, fib_l, fib_r, color="black", lw=1.5, zorder=5.5)
    ax.text(fib_l, price - 0.5, f"{pct:.2f}% ({price:.2f})", color="black", fontsize=17.9, va="bottom", ha="left", zorder=7)

# Zig-zag swings
for j in range(len(swing_x) - 1):
    up = swing_p[j + 1] > swing_p[j]
    ax.plot(swing_x[j:j + 2], swing_p[j:j + 2], color="#0A7D0A" if up else "#FF0000", lw=1.9 if up else 2.0, zorder=5.8,
            solid_capstyle="round")
for x, p, val, tag_s in zip(swing_x, swing_p, swing_value, swing_tag):
    if not tag_s:
        continue
    col = "#0A7D0A" if tag_s in ("HH", "HL") else "#FF0000"
    high = tag_s in ("HH", "LH")
    offs = [(tag_s, 37), (val, 18)] if high else [(val, -13), (tag_s, -32)]
    for s, off in offs:
        ax.annotate(s, (x, p), xytext=(0, off), textcoords="offset pixels", ha="center", va="center", color=col,
                    family="DejaVu Sans Mono", fontsize=11.7, zorder=8)

ax.scatter(up_tri_x, up_tri_p, marker="^", s=110, color="#0A7D0A", lw=0, zorder=6)
ax.scatter(dn_tri_x, dn_tri_p, marker="v", s=110, color="#FF0000", lw=0, zorder=6)
ax.scatter([341.7], [6986.6], marker="_", s=90, color="#0000FF", lw=2.4, zorder=6)
ax.scatter([341.7], [6980.8], marker="_", s=90, color="#FF0000", lw=2.4, zorder=6)
ax.scatter([342], [6985], marker="^", s=60, color="black", lw=0, zorder=6)

# Small profile and level labels
def lvl(i_px, p, s, col, ha="right", fs=8.4):
    ax.text(i_of(i_px), p, s, color=col, fontsize=fs, ha=ha, va="center", zorder=7, alpha=0.85)
lvl(428, 6856.3, "6854.00", "#5B8DEF")
lvl(428, 6822.8, "6821.00", "#C8950F")
lvl(428, 6806.8, "6805.00", "#5B8DEF")
lvl(2739, 6961.8, "6960.00", "#5B8DEF")
lvl(2739, 6936.6, "6935.00", "#C8950F")
lvl(2739, 6885.8, "6884.00", "#5B8DEF")
lvl(3612, 6967.7, "6967.25", "#5B8DEF")
lvl(3612, 6960.2, "6959.75", "#C8950F")
lvl(3612, 6934.5, "6934.25", "#5B8DEF")
ax.text(i_of(442), 6749.6, "Σ: 1714K / 214.00", color="#006400", fontsize=8.2, va="center", ha="left", zorder=7)
ax.text(i_of(2752), 6919.3, "Σ: 598K / 66.75", color="#006400", fontsize=8.2, va="center", ha="left", zorder=7)
ax.text(i_of(660), 6766.7, "Friday\n2/6/2026", color="#1A1A1A", fontsize=14.4, va="center", ha="left", linespacing=1.4, zorder=7)
ax.text(i_of(2750), 6766.7, "Sunday\n2/8/2026", color="#1A1A1A", fontsize=14.4, va="center", ha="left", linespacing=1.4, zorder=7)
ax.text(i_of(2886), 6766.7, "Monday\n2/9/2026", color="#1A1A1A", fontsize=14.4, va="center", ha="left", linespacing=1.4, zorder=7)

# ---------- bottom panel
ax_bot.set_ylim(-0.5, 26.25)
ax_bot.set_yticks([0, 5, 10, 15, 20])
ax_bot.axhline(0, color=GRID, lw=1.4, zorder=2)
ax_bot.axhline(15, color=GRID, lw=1.4, zorder=2)
sns.scatterplot(x=np.arange(len(bar_range)), y=bar_range, ax=ax_bot, marker="s", s=29, color="#2985D5", linewidth=0, zorder=4)
sns.lineplot(x=range_ema_x, y=range_ema_y, ax=ax_bot, color="#2FA48F", lw=2.0, estimator=None, zorder=5)
ax_bot.set_xlim(*XLIM)
ax_bot.set_xticks(time_tick_bars)
ax_bot.set_xticklabels(time_tick_labels, fontsize=17, color=TXT)
ax_bot.tick_params(axis="x", length=4, width=1, color=GRID, pad=8, bottom=True)
ax_bot.set_xlabel(""); ax_bot.set_ylabel("")
ax_bot.set_ylim(-0.5, 26.25)

# ---------- figure-level text and price tags
def txt(x, y, s, **kw):
    kw.setdefault("va", "center"); kw.setdefault("ha", "left")
    fig.text(x / W, 1 - y / H, s, **kw)

txt(3, 19, "amaEfficiencyRatio(ES 03-26 (6000 Tick),Balanced,0.75,10,10)", fontsize=17.2, color=TXT)
txt(3, 165, "dpDATE(ES 03-26 (6000 Tick))", fontsize=17, color=TXT)
SERIF = "Liberation Serif"
txt(8, 189, "Pacific Time, March 2026 Contract,", family=SERIF, fontsize=28.4, fontweight="bold", color="black")
txt(8, 234, "ES", family=SERIF, fontsize=28.4, fontweight="bold", color="black")
txt(8, 279, "6000 Tick", family=SERIF, fontsize=28.4, fontweight="bold", color="black")
txt(3708, 171, "ama Moving Average Cross KAMA & EMA 21n,, Price Action Swing, Order Flow Volume Profile", ha="right", family=SERIF, fontsize=17.7, fontweight="bold", color="black")
txt(8, 1801, "Bar Range and 21n EMA  both in POINTS,", family=SERIF, fontsize=17.8, fontweight="bold", color="black")
txt(3707, 1801, "ATR: 23", ha="right", fontsize=17, color=TXT)
txt(3, 2018, "© 2026 NinjaTrader, LLC", fontsize=17.2, color=TXT)
txt(3, 2087, "ES 03-26 ES 03-26 6000 Tick", fontsize=6, color="#555555")
txt(3821, 2085, "NINJATRADER", ha="right", fontsize=10.5, fontweight="bold", color="#E8401C")
txt(3623, 253, "5502 .12", fontsize=13, color=TXT)

def tag(y, s, fc, tc, ec=None, half=15.5):
    pts = [(3710, y), (3722, y - half), (W - 1, y - half), (W - 1, y + half), (3722, y + half)]
    fig.add_artist(Polygon([(x / W, 1 - yy / H) for x, yy in pts], closed=True, transform=fig.transFigure,
                           facecolor=fc, edgecolor=ec or fc, lw=1, zorder=9))
    fig.text(3725 / W, 1 - y / H, s, fontsize=17.4, color=tc, va="center", ha="left", zorder=10)

tag(259, "6984.50", "#F5EEDA", TXT, "#C4C4B4")
tag(288, "6980.00", "#000080", "white")
tag(325, "6974.25", "#000080", "white")
tag(2009, "3", "#2985D5", TXT)
tag(1994, "4.96", "#2A9D8F", TXT)

for yb in (14, 161):
    txt(3811, yb, "F", fontsize=9, color="#777777", ha="center",
        bbox=dict(boxstyle="square,pad=0.35", fc="#F5EEDA", ec="#BBBBBB", lw=0.8))

fig.savefig("out.png", dpi=100)
